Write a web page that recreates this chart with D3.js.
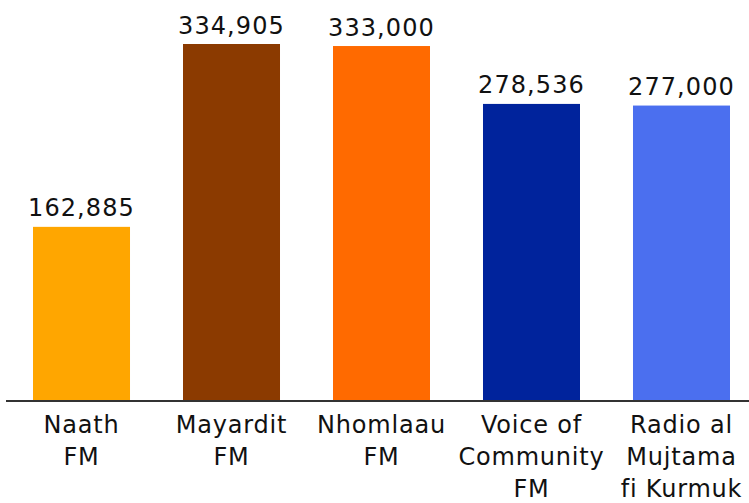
<!DOCTYPE html>
<html><head><meta charset="utf-8">
<script src="https://cdn.jsdelivr.net/npm/d3@7"></script>
<style>html,body{margin:0;padding:0;background:#fff;}svg{display:block;}</style>
</head><body>
<script>
const categories = [["Naath","FM"],["Mayardit","FM"],["Nhomlaau","FM"],["Voice of","Community","FM"],["Radio al","Mujtama","fi Kurmuk"]];
const values = [162885, 334905, 333000, 278536, 277000];
const colors = ["#FFA600", "#8B3A00", "#FF6A00", "#00239C", "#4B6FEF"];

const W = 749, H = 503;
const svg = d3.select("body").append("svg").attr("width", W).attr("height", H);
const ids = categories.map((d,i)=>i);
const x = d3.scaleBand().domain(ids).range([6.5, 756.5]).paddingInner(0.3533).paddingOuter(0.1767);
const y = d3.scaleLinear().domain([0, 376300]).range([400, 0]);
const font = "DejaVu Sans";

svg.selectAll("rect.bar").data(values).join("rect")
  .attr("x", (d,i)=>x(i)).attr("width", x.bandwidth())
  .attr("y", d=>y(d)).attr("height", d=>y(0)-y(d))
  .attr("fill", (d,i)=>colors[i]);

svg.selectAll("text.val").data(values).join("text")
  .attr("x", (d,i)=>x(i)+x.bandwidth()/2).attr("y", d=>y(d)-10.5)
  .attr("text-anchor","middle").attr("font-family", font).attr("font-size", 24)
  .attr("letter-spacing", 1.1).attr("fill","#111")
  .text(d=>d3.format(",")(d));

svg.append("line").attr("x1", 6).attr("x2", 749).attr("y1", y(0)+1).attr("y2", y(0)+1)
  .attr("stroke","#333").attr("stroke-width",2);

const lab = svg.selectAll("text.cat").data(categories).join("text")
  .attr("text-anchor","middle").attr("font-family", font).attr("font-size", 24)
  .attr("letter-spacing", 0.8).attr("fill","#111");
lab.each(function(d,i){
  d3.select(this).selectAll("tspan").data(d).join("tspan")
    .attr("x", x(i)+x.bandwidth()/2).attr("y",(t,j)=>433+j*32).text(t=>t);
});
</script>
</body></html>
